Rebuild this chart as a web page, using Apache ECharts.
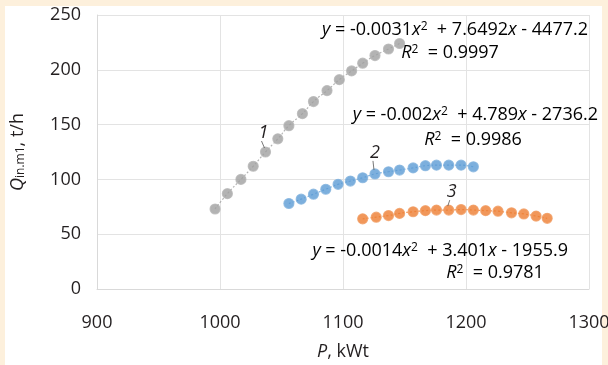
<!DOCTYPE html>
<html>
<head>
<meta charset="utf-8">
<script src="https://cdn.jsdelivr.net/npm/echarts@6/dist/echarts.min.js"></script>
<style>
  html, body { margin: 0; padding: 0; background: #fdf0dc; }
  #main { width: 608px; height: 365px; }
</style>
</head>
<body>
<div id="main"></div>
<script>
// curve 1 (gray)
const p1 = [996, 1006, 1017, 1027, 1037, 1047, 1056, 1067, 1076, 1087, 1097, 1107, 1116, 1126, 1137, 1146];
const q1 = [73, 87, 100, 112, 125, 137, 149, 160, 171, 181, 191, 199, 206, 213, 219, 224];
// curve 2 (blue)
const p2 = [1056, 1066, 1076, 1086, 1096, 1106, 1116, 1126, 1137, 1146, 1157, 1167, 1176, 1186, 1196, 1206];
const q2 = [78, 82, 86.5, 91, 95.5, 98.5, 101.5, 105, 107, 108.5, 110.5, 112.5, 113, 113, 113, 111.5];
// curve 3 (orange)
const p3 = [1116, 1127, 1137, 1146, 1157, 1167, 1176, 1186, 1196, 1206, 1216, 1226, 1237, 1247, 1257, 1266];
const q3 = [64, 65.5, 67, 69, 70.5, 71.5, 72, 72, 72.5, 72, 71.5, 71, 69.5, 68.5, 66.5, 64.5];

const colors = ['#a0a0a0', '#5b9bd5', '#ed7d31'];
const curveNames = ['1', '2', '3'];
// which point each curve number points at
const labelIdx = [4, 7, 7];

const font = '"Open Sans", "Noto Sans", sans-serif';
const txt = '#231f20';

function pairs(xs, ys) {
  return xs.map((x, i) => [x, ys[i]]);
}

let chart = echarts.init(document.getElementById('main'));

const eqRich = {
  i: { fontStyle: 'italic', fontSize: 18, fontFamily: font, color: txt },
  n: { fontSize: 18, fontFamily: font, color: txt },
  s: { fontSize: 12, fontFamily: font, color: txt, verticalAlign: 'top', padding: [0, 0, 6, 0] }
};

function eqText(x, y, align, str) {
  return {
    type: 'text', x: x, y: y, z: 10,
    style: { text: str, rich: eqRich, align: align, verticalAlign: 'middle' }
  };
}

const series = [];
[[p1, q1], [p2, q2], [p3, q3]].forEach((d, k) => {
  series.push({
    type: 'line',
    data: pairs(d[0], d[1]),
    smooth: true,
    symbol: 'none',
    lineStyle: { color: colors[k], width: 1.2, type: [2, 2], opacity: 0.8 },
    silent: true,
    z: 1
  });
  series.push({
    type: 'scatter',
    data: pairs(d[0], d[1]),
    symbolSize: 10,
    itemStyle: { color: colors[k], borderColor: echarts.color.lift(colors[k], 0.25), borderWidth: 1.2 },
    z: 2
  });
});

chart.setOption({
  animation: false,
  backgroundColor: '#fdf0dc',
  grid: { left: 97, right: 19, top: 15, bottom: 76, outerBoundsMode: 'none' },
  xAxis: {
    type: 'value', min: 900, max: 1300, interval: 100,
    name: '{i|P}, kWt', nameLocation: 'middle', nameGap: 54,
    nameTextStyle: {
      fontSize: 18, fontFamily: font, color: txt,
      rich: { i: { fontStyle: 'italic', fontSize: 18, fontFamily: font, color: txt } }
    },
    axisLine: { show: true, lineStyle: { color: '#d9d9d9' } },
    axisTick: { show: false },
    axisLabel: { fontSize: 18, fontFamily: font, color: txt, margin: 25, formatter: v => String(v) },
    splitLine: { show: true, lineStyle: { color: '#e3e3e3' } }
  },
  yAxis: {
    type: 'value', min: 0, max: 250, interval: 50,
    name: '{i|Q}{s|in.m1}, t/h', nameLocation: 'middle', nameGap: 70,
    nameTextStyle: {
      fontSize: 18, fontFamily: font, color: txt,
      rich: {
        i: { fontStyle: 'italic', fontSize: 18, fontFamily: font, color: txt },
        s: { fontSize: 12, fontFamily: font, color: txt, verticalAlign: 'bottom', padding: [7, 0, 0, 0] }
      }
    },
    axisLine: { show: true, lineStyle: { color: '#d9d9d9' } },
    axisTick: { show: false },
    axisLabel: { fontSize: 18, fontFamily: font, color: txt, margin: 16 },
    splitLine: { show: true, lineStyle: { color: '#e3e3e3' } }
  },
  graphic: [
    { type: 'rect', shape: { x: 5, y: 6, width: 597, height: 359 }, style: { fill: '#ffffff' }, z: -10, silent: true },
    eqText(588, 30, 'right', '{i|y}{n| = -0.0031}{i|x}{s|2}{n|  + 7.6492}{i|x}{n| - 4477.2}'),
    eqText(450, 53, 'center', '{i|R}{s|2}{n|  = 0.9997}'),
    eqText(598, 115, 'right', '{i|y}{n| = -0.002}{i|x}{s|2}{n|  + 4.789}{i|x}{n| - 2736.2}'),
    eqText(473, 140, 'center', '{i|R}{s|2}{n|  = 0.9986}'),
    eqText(568, 251, 'right', '{i|y}{n| = -0.0014}{i|x}{s|2}{n|  + 3.401}{i|x}{n| - 1955.9}'),
    eqText(495, 273, 'center', '{i|R}{s|2}{n|  = 0.9781}')
  ],
  series: series
});

// curve numbers with short leader lines
const xsAll = [p1, p2, p3];
const ysAll = [q1, q2, q3];
const offs = [[-2, -19], [0, -21], [3, -18]];
const extra = [];
labelIdx.forEach((idx, k) => {
  const pt = chart.convertToPixel({ gridIndex: 0 }, [xsAll[k][idx], ysAll[k][idx]]);
  const tx = pt[0] + offs[k][0], ty = pt[1] + offs[k][1];
  extra.push({
    type: 'text', x: tx, y: ty, z: 10,
    style: { text: curveNames[k], fontSize: 18, fontStyle: 'italic', fontFamily: font, fill: txt, align: 'center', verticalAlign: 'middle' }
  });
  extra.push({
    type: 'line', z: 10,
    shape: { x1: tx - 2, y1: ty + 8, x2: pt[0] - 1, y2: pt[1] - 4 },
    style: { stroke: '#555', lineWidth: 0.8 }
  });
});
chart.setOption({ graphic: extra.map((e, i) => Object.assign({ id: 'lab' + i }, e)) });
</script>
</body>
</html>
